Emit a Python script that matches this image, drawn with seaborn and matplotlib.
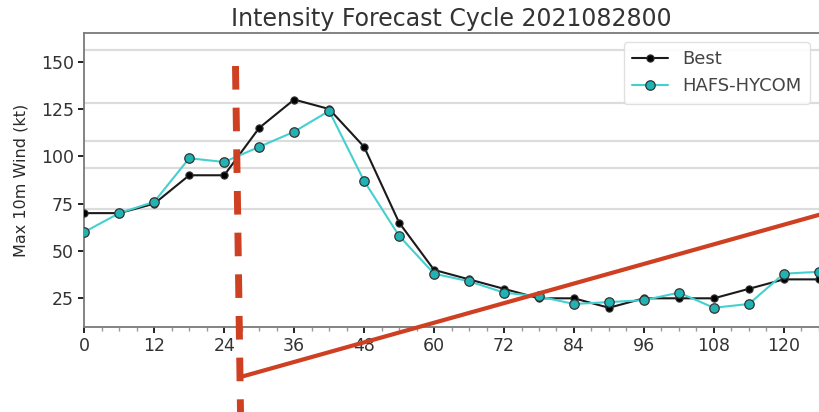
import matplotlib
matplotlib.use("Agg")
import matplotlib.pyplot as plt
import seaborn as sns
import pandas as pd
from matplotlib.ticker import MultipleLocator
from matplotlib.lines import Line2D

# ---- data ----
hours = [0, 6, 12, 18, 24, 30, 36, 42, 48, 54, 60, 66, 72, 78, 84, 90, 96, 102, 108, 114, 120, 126]
best = [70, 70, 75, 90, 90, 115, 130, 125, 105, 65, 40, 35, 30, 25, 25, 20, 25, 25, 25, 30, 35, 35]
hafs = [60, 70, 76, 99, 97, 105, 113, 124, 87, 58, 38, 34, 28, 26, 22, 23, 24, 28, 20, 22, 38, 39]
grid_levels = [72, 94, 108, 128, 156]
yticks = [25, 50, 75, 100, 125, 150]
title = "Intensity Forecast Cycle 2021082800"
ylabel = "Max 10m Wind (kt)"

df_best = pd.DataFrame({"hour": hours, "wind": best})
df_hafs = pd.DataFrame({"hour": hours, "wind": hafs})

sns.set_style("ticks")
plt.rcParams["font.family"] = ["DejaVu Sans"]

W, H = 819, 412
fig = plt.figure(figsize=(W / 100, H / 100), dpi=100)
ax = fig.add_axes([84.3 / W, 1 - 326.7 / H, (818.8 - 84.3) / W, (326.7 - 33.3) / H])

for lvl in grid_levels:
    ax.axhline(lvl, color="#dcdcdc", lw=1.6, zorder=0)

sns.lineplot(data=df_best, x="hour", y="wind", ax=ax, color="#1a1a1a", lw=1.5,
             marker="o", markersize=5.2, markerfacecolor="black", markeredgecolor="#333333",
             markeredgewidth=0.8, label="Best", zorder=3)
sns.lineplot(data=df_hafs, x="hour", y="wind", ax=ax, color="#45d0d0", lw=1.5,
             marker="o", markersize=6.8, markerfacecolor="#1fb3b3", markeredgecolor="#333333",
             markeredgewidth=0.9, label="HAFS-HYCOM", zorder=4)

ax.set_xlim(0, 126)
ax.set_ylim(10, 165)
ax.xaxis.set_major_locator(MultipleLocator(12))
ax.xaxis.set_minor_locator(MultipleLocator(3))
ax.set_yticks(yticks)
ax.tick_params(axis="both", which="major", labelsize=12.5, length=4.5, width=1.4,
               color="#222222", labelcolor="#333333", pad=3)
ax.tick_params(axis="x", which="minor", length=3, width=1, color="#999999")
for sp in ax.spines.values():
    sp.set_color("#7a7a7a")
    sp.set_linewidth(1.3)
ax.spines["right"].set_visible(False)

ax.set_xlabel("")
ax.set_ylabel(ylabel, fontsize=11.5, color="#2a2a2a", labelpad=9)
ax.set_title(title, fontsize=17, color="#333333", pad=5)

leg = ax.legend(loc="upper right", fontsize=13, frameon=True, fancybox=True,
                edgecolor="#dddddd", framealpha=0.9, borderpad=0.45)
for t in leg.get_texts():
    t.set_color("#444444")

# ---- red annotation overlay (figure pixel coordinates) ----
red = "#cf3f21"
def px(x, y):
    return x / W, 1 - y / H

x0, y0 = px(235.5, 66)
x1, y1 = px(240.5, 412)
fig.add_artist(Line2D([x0, x1], [y0, y1], transform=fig.transFigure, color=red, lw=5,
                      linestyle=(0, (3.4, 2.6)), solid_capstyle="butt", dash_capstyle="butt", zorder=10))
x2, y2 = px(240.5, 377)
x3, y3 = px(822, 214)
fig.add_artist(Line2D([x2, x3], [y2, y3], transform=fig.transFigure, color=red, lw=3,
                      solid_capstyle="butt", zorder=10))

fig.savefig("out.png", dpi=100)
